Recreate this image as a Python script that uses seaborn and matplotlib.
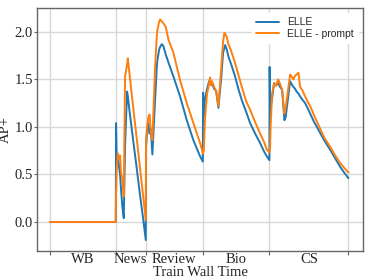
import matplotlib
matplotlib.use("Agg")
import matplotlib.pyplot as plt
import seaborn as sns
import pandas as pd
import numpy as np

# ---- data (x in training steps) ----
x_steps = [0, 65.7, 66, 66.7, 67.7, 69, 70, 71, 72.3, 73.7, 75, 77, 77.7, 78.5,
           82, 86, 90, 93, 95.7,
           96, 97, 98.3, 99.5, 100.7, 102.3, 105, 106.7, 107.3, 109, 110, 111.7,
           113.3, 115.7, 118.3, 123.3, 130, 136.7, 143.3, 150, 152.7,
           153.0, 153.7, 155, 157, 159, 160, 161, 162, 164, 166, 168.3, 171, 173,
           174.3, 175, 176.5, 178.3, 181, 185, 188, 191.7, 196, 200, 205, 210,
           214, 216.7, 219.3,
           219.5, 220, 220.5, 222, 224, 226, 228, 230, 232, 234.3, 235.5, 240,
           241.5, 243.3, 245, 246.5, 248.3, 250, 252, 255, 258.3, 260, 264,
           268.3, 274, 280, 285, 290, 294, 298.3]

elle = [0, 0, 1.04, 0.62, 0.70, 0.58, 0.50, 0.34, 0.16, 0.04, 0.80, 1.37, 1.33, 1.25,
        0.95, 0.62, 0.28, 0.04, -0.19,
        0.79, 0.95, 1.04, 0.93, 0.98, 0.71, 1.28, 1.63, 1.70, 1.81, 1.84, 1.87,
        1.85, 1.76, 1.68, 1.53, 1.32, 1.07, 0.86, 0.69, 0.635,
        1.36, 1.11, 1.30, 1.40, 1.48, 1.45, 1.44, 1.46, 1.40, 1.38, 1.20, 1.50, 1.78,
        1.83, 1.86, 1.82, 1.74, 1.66, 1.53, 1.41, 1.28, 1.16, 1.04, 0.93, 0.83,
        0.74, 0.69, 0.65,
        1.63, 1.11, 1.20, 1.30, 1.46, 1.44, 1.46, 1.42, 1.39, 1.07, 1.10, 1.48,
        1.45, 1.42, 1.40, 1.37, 1.35, 1.32, 1.29, 1.25, 1.18, 1.14, 1.05,
        0.97, 0.86, 0.76, 0.67, 0.58, 0.52, 0.46]

elle_prompt = [0, 0, 0.30, 0.55, 0.72, 0.66, 0.70, 0.52, 0.45, 0.27, 1.53, 1.65, 1.72, 1.65,
               1.31, 0.94, 0.56, 0.28, 0.02,
               0.86, 1.00, 1.10, 1.13, 0.95, 0.86, 1.63, 1.95, 2.02, 2.10, 2.13, 2.11,
               2.09, 2.05, 1.92, 1.78, 1.49, 1.25, 1.04, 0.83, 0.73,
               0.72, 0.75, 1.10, 1.35, 1.45, 1.52, 1.44, 1.48, 1.42, 1.38, 1.22, 1.60, 1.90,
               1.99, 1.98, 1.95, 1.87, 1.80, 1.67, 1.56, 1.42, 1.27, 1.18, 1.05, 0.93,
               0.84, 0.76, 0.73,
               0.74, 0.80, 1.00, 1.35, 1.46, 1.43, 1.50, 1.45, 1.39, 1.14, 1.20, 1.55,
               1.53, 1.50, 1.54, 1.55, 1.57, 1.42, 1.39, 1.32, 1.25, 1.22, 1.12,
               1.02, 0.89, 0.79, 0.70, 0.62, 0.57, 0.52]

domain_bounds = [0, 65.7, 95.7, 152.7, 219.3, 298.3]
domain_labels = ["WB", "News", "Review", "Bio", "CS"]
y_ticks = [0.0, 0.5, 1.0, 1.5, 2.0]

df = pd.DataFrame({
    "step": x_steps * 2,
    "value": elle + elle_prompt,
    "model": ["ELLE"] * len(x_steps) + ["ELLE - prompt"] * len(x_steps),
})

sns.set_theme(style="whitegrid")
plt.rcParams["font.family"] = ["Liberation Serif", "DejaVu Serif"]

fig = plt.figure(figsize=(3.74, 2.80), dpi=100)
ax = fig.add_axes([0.099, 0.1036, 0.872, 0.8678])

sns.lineplot(data=df, x="step", y="value", hue="model",
             palette=["#1f77b4", "#ff7f0e"], linewidth=1.4, ax=ax,
             estimator=None, sort=False)

ax.set_ylim(-0.305, 2.25)
ax.set_xlim(-13, 313)
ax.set_yticks(y_ticks)
ax.set_yticklabels([f"{v:.1f}" for v in y_ticks], fontsize=10.5)

ax.set_xticks(domain_bounds)
ax.set_xticklabels([""] * len(domain_bounds))
mids = [(a + b) / 2 for a, b in zip(domain_bounds[:-1], domain_bounds[1:])]
ax.set_xticks(mids, minor=True)
ax.set_xticklabels(domain_labels, minor=True, fontsize=10.5)
ax.tick_params(axis="x", which="minor", length=0, pad=1.5)
ax.tick_params(axis="x", which="major", length=3, width=0.8, color="#666666", bottom=True)
ax.tick_params(axis="y", which="major", length=2, width=0.8, color="#666666", left=True, pad=1)
ax.grid(True, which="major", color="#d8d8d8", linewidth=1.0)
ax.grid(False, which="minor")

for s in ax.spines.values():
    s.set_color("#666666")
    s.set_linewidth(1.0)

ax.set_xlabel("Train Wall Time", fontsize=10.5, labelpad=0)
ax.set_ylabel("AP+", fontsize=10.5, labelpad=2)

leg = ax.legend(loc="upper right", fontsize=7.5, frameon=True, facecolor="white",
                edgecolor="white", framealpha=1.0, handlelength=2.2,
                borderaxespad=0.5, labelspacing=0.15)
for t in leg.get_texts():
    t.set_family(["Liberation Sans", "DejaVu Sans"])

fig.savefig("out.png", dpi=100)
